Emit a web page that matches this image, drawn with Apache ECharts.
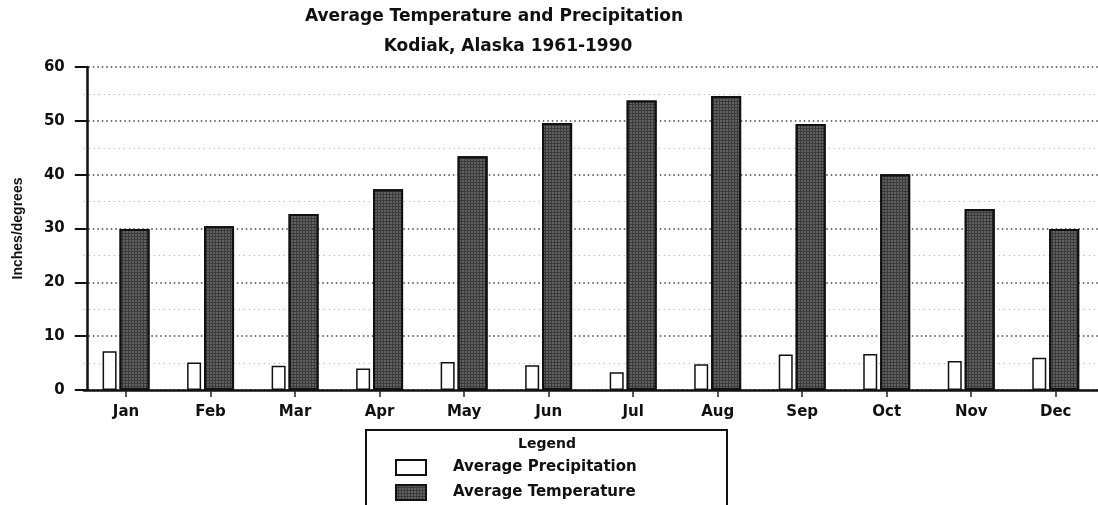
<!DOCTYPE html>
<html>
<head>
<meta charset="utf-8">
<script src="https://cdn.jsdelivr.net/npm/echarts@6/dist/echarts.min.js"></script>
<style>html,body{margin:0;padding:0;background:#fff}#c{width:1098px;height:505px}</style>
</head>
<body>
<div id="c"></div>
<script>
var months = ['Jan','Feb','Mar','Apr','May','Jun','Jul','Aug','Sep','Oct','Nov','Dec'];
var precipitation = [7.2, 5.1, 4.5, 4.0, 5.2, 4.6, 3.3, 4.8, 6.6, 6.7, 5.4, 6.0];
var temperature = [29.9, 30.4, 32.7, 37.3, 43.4, 49.6, 53.8, 54.6, 49.4, 40.1, 33.6, 29.9];
var yTicks = [0, 10, 20, 30, 40, 50, 60];

var chart = echarts.init(document.getElementById('c'), null, {renderer: 'canvas'});
var boldFont = 'DejaVu Sans';
chart.setOption({
  animation: false,
  backgroundColor: '#fff',
  graphic: [
    {type: 'text', x: 494, y: 17, style: {text: 'Average Temperature and Precipitation', font: 'bold 17px "DejaVu Sans"', fill: '#111', textAlign: 'center', textVerticalAlign: 'middle'}},
    {type: 'text', x: 508, y: 47, style: {text: 'Kodiak, Alaska 1961-1990', font: 'bold 17px "DejaVu Sans"', fill: '#111', textAlign: 'center', textVerticalAlign: 'middle'}},
    {type: 'rect', shape: {x: 366, y: 430, width: 361, height: 90}, style: {fill: 'none', stroke: '#111', lineWidth: 2}, z: 10},
    {type: 'text', x: 547, y: 444, style: {text: 'Legend', font: 'bold 14px "DejaVu Sans"', fill: '#111', textAlign: 'center', textVerticalAlign: 'middle'}, z: 10}
  ],
  legend: {
    left: 395, top: 459, orient: 'vertical',
    itemWidth: 30, itemHeight: 15, itemGap: 8,
    icon: 'rect',
    padding: 0,
    textStyle: {fontFamily: boldFont, fontWeight: 'bold', fontSize: 15, color: '#111', padding: [0, 0, 0, 22]},
    data: ['Average Precipitation', 'Average Temperature']
  },
  grid: {left: 83.8, right: -10.6, top: 67, bottom: 115, containLabel: false},
  xAxis: {
    type: 'category',
    data: months,
    axisLine: {lineStyle: {color: '#111', width: 2.5}},
    axisTick: {show: true, alignWithLabel: true, length: 7, lineStyle: {color: '#222', width: 1.5}},
    axisLabel: {margin: 15, fontFamily: boldFont, fontWeight: 'bold', fontSize: 15, color: '#111'}
  },
  yAxis: {
    type: 'value',
    min: 0, max: 60, interval: 10,
    offset: -3,
    name: 'Inches/degrees',
    nameLocation: 'middle',
    nameGap: 62,
    nameRotate: 90,
    nameTextStyle: {fontFamily: '"Liberation Sans Narrow", "Liberation Sans"', fontWeight: 'bold', fontSize: 14, color: '#111'},
    axisLine: {show: true, lineStyle: {color: '#111', width: 2.5}},
    axisTick: {show: true, length: 12, lineStyle: {color: '#111', width: 2}},
    axisLabel: {margin: 22, fontFamily: boldFont, fontWeight: 'bold', fontSize: 15, color: '#111',
      formatter: function (v) { return yTicks.indexOf(v) >= 0 ? String(v) : ''; }},
    splitLine: {show: true, lineStyle: {type: [1.5, 3], color: '#444', width: 1.5}},
    minorTick: {show: false, splitNumber: 2},
    minorSplitLine: {show: true, lineStyle: {type: [1, 4], color: '#aaa', width: 1.2}}
  },
  series: [
    {
      name: 'Average Precipitation',
      type: 'bar',
      data: precipitation,
      barWidth: 14,
      barGap: '21%',
      itemStyle: {color: '#fff', borderColor: '#111', borderWidth: 1.5}
    },
    {
      name: 'Average Temperature',
      type: 'bar',
      data: temperature,
      barWidth: 30,
      itemStyle: {
        color: '#3a3a3a', borderColor: '#111', borderWidth: 2,
        decal: {symbol: 'rect', symbolSize: 0.8, color: 'rgba(255,255,255,0.35)', dashArrayX: [2, 1], dashArrayY: [2, 1], rotation: 0}
      }
    }
  ]
});
</script>
</body>
</html>
